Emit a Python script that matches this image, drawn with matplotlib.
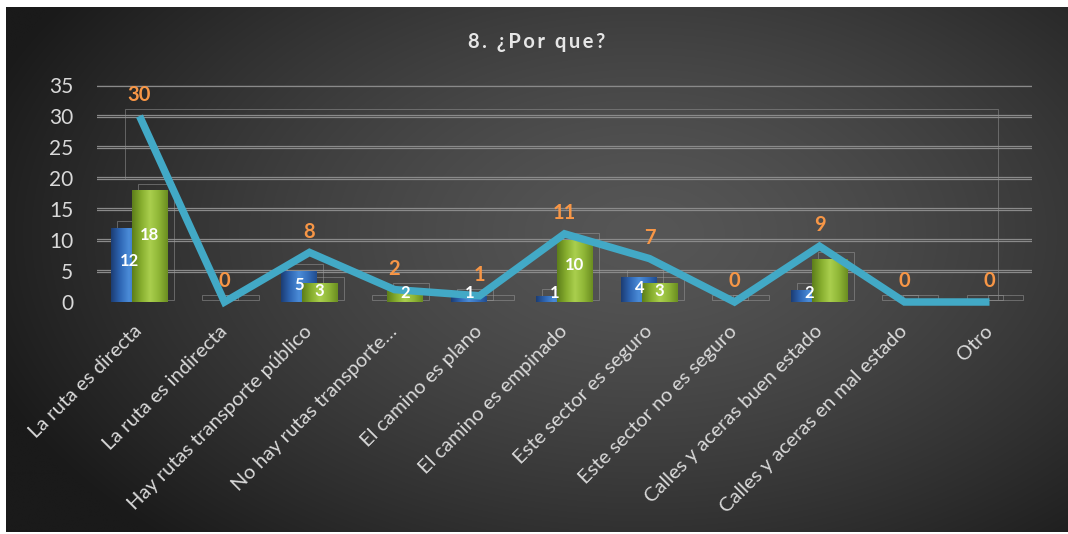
import matplotlib
matplotlib.use("Agg")
import matplotlib.pyplot as plt
import numpy as np
from matplotlib.colors import LinearSegmentedColormap
from matplotlib.patches import Rectangle
from matplotlib.transforms import ScaledTranslation


CATEGORIES = [
    "La ruta es directa",
    "La ruta es indirecta",
    "Hay rutas transporte público",
    "No hay rutas transporte…",
    "El camino es plano",
    "El camino es empinado",
    "Este sector es seguro",
    "Este sector no es seguro",
    "Calles y aceras buen estado",
    "Calles y aceras en mal estado",
    "Otro",
]
BLUE_VALUES = [12, 0, 5, 0, 1, 1, 4, 0, 2, 0, 0]
GREEN_VALUES = [18, 0, 3, 2, 0, 10, 3, 0, 7, 0, 0]
TOTALS = [30, 0, 8, 2, 1, 11, 7, 0, 9, 0, 0]
# the green "7" label is hidden in the original chart
GREEN_LABELS = ["18", "", "3", "2", "", "10", "3", "", "", "", ""]
Y_TICKS = [0, 5, 10, 15, 20, 25, 30, 35]
TITLE = "8. ¿Por que?"

FONT = ["Lato", "DejaVu Sans"]
TEXT_COLOR = "#d9d9d9"
ORANGE = "#f79646"
LINE_COLOR = "#42a9c6"

W, H = 1068, 534


def background_gradient():
    yy, xx = np.mgrid[0:H, 0:W]
    d = np.sqrt(((xx - 640) / 700.0) ** 2 + ((yy - 230) / 430.0) ** 2)
    d = np.clip(d, 0, 1) ** 1.4
    inner = np.array([0x56, 0x56, 0x56]) / 255
    outer = np.array([0x1a, 0x1a, 0x1a]) / 255
    return inner[None, None, :] * (1 - d[..., None]) + outer[None, None, :] * d[..., None]


def shade_bars(ax, bars, cmap, zorder):
    row = np.linspace(0, 1, 64)[np.newaxis, :]
    for patch in bars:
        h = patch.get_height()
        if h <= 0:
            continue
        x0 = patch.get_x()
        x1 = x0 + patch.get_width()
        im = ax.imshow(row, cmap=cmap, extent=[x0, x1, 0, h], aspect="auto",
                       zorder=zorder, interpolation="bilinear")
        im.set_clip_path(patch)


def main():
    plt.rcParams["font.family"] = FONT
    fig = plt.figure(figsize=(W / 100, H / 100), dpi=100, facecolor="white")

    bg = fig.add_axes([6 / W, 2 / H, (W - 6) / W, (H - 9) / H])
    bg.imshow(background_gradient(), aspect="auto", extent=[0, 1, 0, 1])
    bg.axis("off")

    ax = fig.add_axes([97 / W, 232 / H, 935 / W, 217 / H])
    ax.patch.set_alpha(0)
    x = np.arange(len(CATEGORIES))

    # double gridlines
    for dy in (1.2, -1.2):
        off = ax.transData + ScaledTranslation(0, dy / 100, fig.dpi_scale_trans)
        ax.hlines(Y_TICKS[1:], -0.52, 10.5, colors="#8a8a8a", lw=0.9,
                  transform=off, zorder=1)

    # floor
    off = ax.transData + ScaledTranslation(0, -2 / 100, fig.dpi_scale_trans)
    ax.hlines(0, -0.52, 10.5, colors="#8f8f8f", lw=3.5, transform=off, zorder=2)

    width = 0.42
    blue_x = x - 0.12
    green_x = x + 0.12

    # faint 3d frames behind bars
    for xs, vals in ((blue_x, BLUE_VALUES), (green_x, GREEN_VALUES)):
        for xi, v in zip(xs, vals):
            ax.add_patch(Rectangle((xi - width / 2 + 0.07, 0.3), width, v + 0.8,
                                   fill=False, ec="#9a9a9a", lw=0.6, alpha=0.6,
                                   zorder=2.5))
    top = max(TOTALS) * 1.04
    ax.plot([-0.17, -0.17, 10.1, 10.1], [20, top, top, 0.5], color="#8a8a8a",
            lw=0.6, alpha=0.7, zorder=2.5)

    blue_cmap = LinearSegmentedColormap.from_list(
        "b", ["#1c3d74", "#2e66b4", "#4b8cd8", "#356fbc", "#224d8f"])
    green_cmap = LinearSegmentedColormap.from_list(
        "g", ["#5d7e1b", "#86ad2e", "#aacf4e", "#90b737", "#6b8e21"])

    blue_bars = ax.bar(blue_x, BLUE_VALUES, width, color="#2e66b4", zorder=3)
    shade_bars(ax, blue_bars, blue_cmap, 3.1)
    green_bars = ax.bar(green_x, GREEN_VALUES, width, color="#86ad2e", zorder=4)
    shade_bars(ax, green_bars, green_cmap, 4.1)

    for xi, v in zip(blue_x, BLUE_VALUES):
        if v:
            ax.text(xi, max(v * 0.55, 1.4), str(v), color="white", fontsize=12,
                    fontweight="bold", ha="center", va="center", zorder=9)
    for xi, v, lab in zip(green_x, GREEN_VALUES, GREEN_LABELS):
        if lab:
            ax.text(xi, max(v * 0.6, 1.4), lab, color="white", fontsize=12,
                    fontweight="bold", ha="center", va="center", zorder=9)

    ax.plot(x, TOTALS, color=LINE_COLOR, lw=5.4, solid_joinstyle="miter",
            solid_capstyle="butt", zorder=7, clip_on=False)
    for xi, v in zip(x, TOTALS):
        ax.annotate(str(v), (xi, v), xytext=(0, 15), textcoords="offset points",
                    ha="center", va="center", color=ORANGE, fontsize=14.5,
                    fontweight="bold", zorder=8)

    ax.set_xlim(-0.5, 10.5)
    ax.set_ylim(0, 35)
    ax.set_yticks(Y_TICKS)
    ax.set_yticklabels([str(t) for t in Y_TICKS], color=TEXT_COLOR, fontsize=15)
    ax.set_xticks(x)
    ax.set_xticklabels(CATEGORIES, rotation=45, ha="right", va="center",
                       rotation_mode="anchor", color=TEXT_COLOR, fontsize=14.5)
    ax.tick_params(axis="y", length=0, pad=17)
    ax.tick_params(axis="x", length=0, pad=19)
    for spine in ax.spines.values():
        spine.set_visible(False)

    fig.text(537 / W, 1 - 42 / H, "\u2009".join(TITLE), color="#e6e6e6",
             fontsize=14.5, fontweight="bold", ha="center", va="center")

    fig.savefig("out.png", dpi=100, facecolor="white")


if __name__ == "__main__":
    main()
